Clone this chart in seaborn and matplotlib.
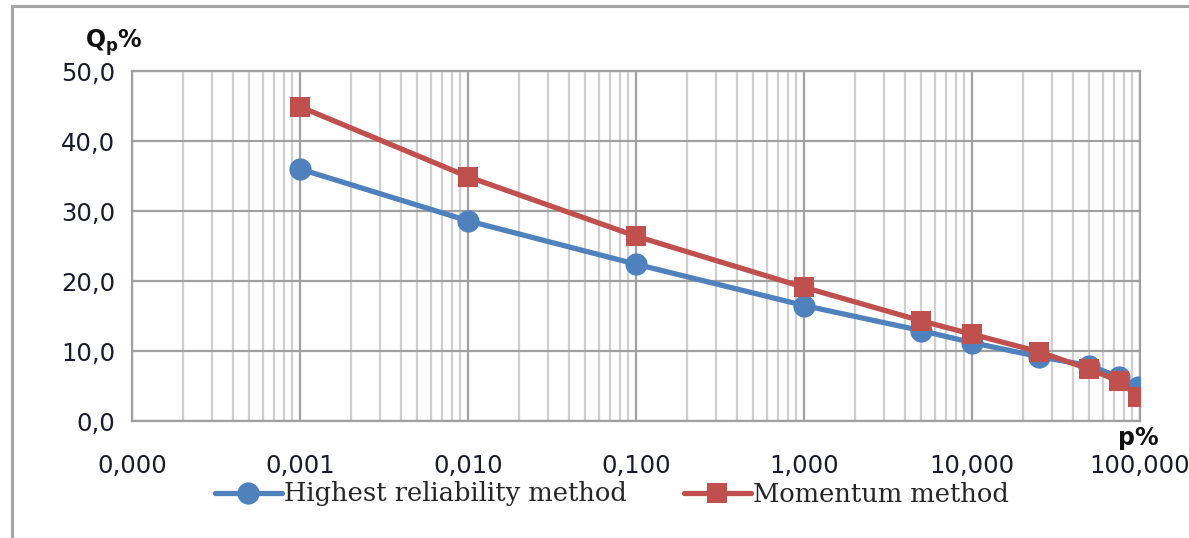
import matplotlib
matplotlib.use("Agg")
import matplotlib.pyplot as plt
import seaborn as sns
import pandas as pd
import numpy as np
from matplotlib.ticker import FixedLocator, FuncFormatter, LogLocator, NullFormatter
from matplotlib.patches import Rectangle

# ---- data ----
p_percent = [0.001, 0.01, 0.1, 1, 5, 10, 25, 50, 75, 97]
q_highest = [36.0, 28.6, 22.4, 16.5, 12.9, 11.2, 9.2, 7.9, 6.3, 4.9]
q_momentum = [44.9, 34.9, 26.4, 19.1, 14.3, 12.4, 9.9, 7.4, 5.7, 3.5]
series_names = ["Highest reliability method", "Momentum method"]
x_ticks = [0.0001, 0.001, 0.01, 0.1, 1, 10, 100]
y_ticks = [0, 10, 20, 30, 40, 50]

df = pd.DataFrame({
    "p": p_percent * 2,
    "Q": q_highest + q_momentum,
    "method": [series_names[0]] * len(p_percent) + [series_names[1]] * len(p_percent),
})

sns.set_theme(style="white")
plt.rcParams["font.family"] = ["DejaVu Sans"]

fig = plt.figure(figsize=(11.89, 5.38), dpi=100)
ax = fig.add_axes([132/1189, 1-421/538, (1140-132)/1189, (421-71)/538])

blue = "#4F81BD"
red = "#C0504D"

sns.lineplot(data=df[df.method == series_names[0]], x="p", y="Q", ax=ax,
             color=blue, marker="o", markersize=16, markeredgewidth=0,
             linewidth=3.8, label=series_names[0], zorder=3)
sns.lineplot(data=df[df.method == series_names[1]], x="p", y="Q", ax=ax,
             color=red, marker="s", markersize=15, markeredgewidth=0,
             linewidth=3.8, label=series_names[1], zorder=4)

ax.set_xscale("log")
ax.set_xlim(0.0001, 100)
ax.set_ylim(0, 50)
ax.xaxis.set_major_locator(FixedLocator(x_ticks))
ax.xaxis.set_minor_locator(LogLocator(base=10, subs=np.arange(2, 10), numticks=100))
ax.xaxis.set_minor_formatter(NullFormatter())
ax.xaxis.set_major_formatter(FuncFormatter(lambda v, pos: f"{v:.3f}".replace(".", ",")))
ax.yaxis.set_major_locator(FixedLocator(y_ticks))
ax.yaxis.set_major_formatter(FuncFormatter(lambda v, pos: f"{v:.1f}".replace(".", ",")))

ax.grid(which="major", axis="both", color="#a0a0a0", linewidth=1.6)
ax.grid(which="minor", axis="x", color="#cfcfcf", linewidth=1.6)
ax.set_axisbelow(True)
for s in ax.spines.values():
    s.set_color("#a0a0a0")
    s.set_linewidth(1.6)

ax.tick_params(axis="both", which="both", length=0, labelsize=17.5, colors="#1a1a2e")
ax.tick_params(axis="x", pad=24)
ax.tick_params(axis="y", pad=12)
ax.set_xlabel("")
ax.set_ylabel("")

fig.text(85/1189, 1-43/538, r"Q$_\mathregular{p}$%", fontsize=17, fontweight="bold",
         ha="left", va="center", color="#111111")
fig.text(1138/1189, 1-438/538, "p%", fontsize=17, fontweight="bold",
         ha="center", va="center", color="#111111")

leg = ax.legend(loc="center", bbox_to_anchor=(612/1189, 1-494/538),
                bbox_transform=fig.transFigure, ncol=2, frameon=False,
                prop={"family": "DejaVu Serif", "size": 18.5},
                handlelength=2.6, handletextpad=0.1, columnspacing=2.2)

fig.add_artist(Rectangle((12/1189, -0.1), 1.2, 1 - 6/538 + 0.1,
                         transform=fig.transFigure, fill=False,
                         edgecolor="#a6a6a6", linewidth=2.2))

fig.savefig("out.png", dpi=100, facecolor="white")
